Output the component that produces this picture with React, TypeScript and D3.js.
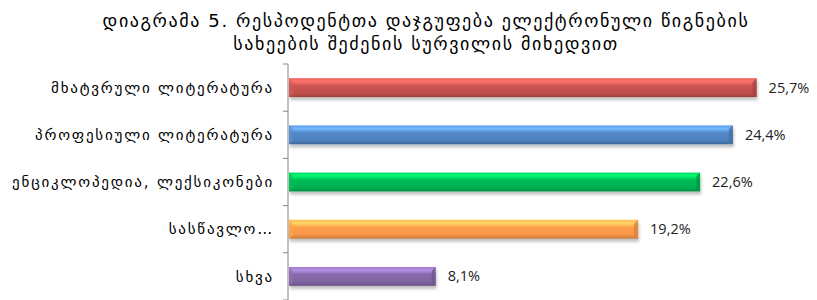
import React from "react";
import * as d3 from "d3";

const titleLines = [
  "დიაგრამა 5. რესპოდენტთა დაჯგუფება ელექტრონული წიგნების",
  "სახეების შეძენის სურვილის მიხედვით",
];
const categories = [
  "მხატვრული ლიტერატურა",
  "პროფესიული ლიტერატურა",
  "ენციკლოპედია, ლექსიკონები",
  "სასწავლო…",
  "სხვა",
];
const values = [25.7, 24.4, 22.6, 19.2, 8.1];
const colors = ["#c0504d", "#4f81bd", "#00b050", "#f79646", "#8064a2"];

const W = 817;
const H = 300;
const axisX = 288;

const App = () => {
  const x = d3.scaleLinear().domain([0, 30]).range([axisX, 835]);
  const y = d3
    .scaleBand<string>()
    .domain(categories)
    .range([64, 300])
    .paddingInner(0.6)
    .paddingOuter(0.3);
  const step = y.step();
  const tickYs = d3.range(categories.length + 1).map((i) => 64 + i * step);
  const fmt = (v: number) => d3.format(".1f")(v).replace(".", ",") + "%";

  return (
    <svg
      width={W}
      height={H}
      style={{ position: "absolute", left: 0, top: 0, background: "#fff" }}
    >
      <defs>
        {colors.map((c, i) => {
          const base = d3.color(c)!;
          return (
            <linearGradient key={i} id={"g" + i} x1="0" y1="0" x2="0" y2="1">
              <stop offset="0" stopColor={base.brighter(0.6).toString()} />
              <stop offset="0.18" stopColor={base.brighter(1.0).toString()} />
              <stop offset="0.4" stopColor={base.brighter(0.15).toString()} />
              <stop offset="0.8" stopColor={c} />
              <stop offset="1" stopColor={base.darker(0.6).toString()} />
            </linearGradient>
          );
        })}
        <filter id="sh" x="-5%" y="-30%" width="110%" height="180%">
          <feDropShadow dx="1" dy="3" stdDeviation="1.5" floodColor="#000" floodOpacity="0.25" />
        </filter>
      </defs>

      <g
        fontFamily="'DejaVu Sans', sans-serif"
        fontSize={18}
        letterSpacing={1.6}
        fill="#000"
        textAnchor="middle"
      >
        {titleLines.map((t, i) => (
          <text key={i} x={426} y={27 + i * 23}>
            {t}
          </text>
        ))}
      </g>

      {categories.map((c, i) => {
        const y0 = y(c)!;
        const bh = y.bandwidth();
        const x1 = x(values[i]);
        const base = d3.color(colors[i])!;
        return (
          <g key={c}>
            <rect
              x={axisX + 1}
              y={y0}
              width={x1 - axisX - 1}
              height={bh}
              fill={`url(#g${i})`}
              filter="url(#sh)"
            />
            <polygon
              points={`${x1 - 4},${y0 + 4} ${x1},${y0} ${x1},${y0 + bh} ${x1 - 4},${y0 + bh - 3}`}
              fill={base.darker(0.4).toString()}
              opacity={0.8}
            />
            <polygon
              points={`${axisX + 1},${y0} ${axisX + 5},${y0 + 4} ${axisX + 5},${y0 + bh - 3} ${axisX + 1},${y0 + bh}`}
              fill={base.brighter(0.3).toString()}
              opacity={0.7}
            />
            <text
              x={x1 + 12}
              y={y0 + bh / 2}
              dy="0.35em"
              fontFamily="'Open Sans', sans-serif"
              fontSize={14.5}
              fill="#222"
            >
              {fmt(values[i])}
            </text>
            <text
              x={axisX - 14}
              y={y0 + bh / 2}
              dy="0.35em"
              textAnchor="end"
              fontFamily="'DejaVu Sans', sans-serif"
              fontSize={15}
              letterSpacing={1.8}
              fill="#000"
            >
              {c}
            </text>
          </g>
        );
      })}

      <line x1={axisX} x2={axisX} y1={64} y2={H} stroke="#868686" />
      {tickYs.map((t) => (
        <line key={t} x1={axisX - 5} x2={axisX} y1={t} y2={t} stroke="#868686" />
      ))}
    </svg>
  );
};

export default App;
